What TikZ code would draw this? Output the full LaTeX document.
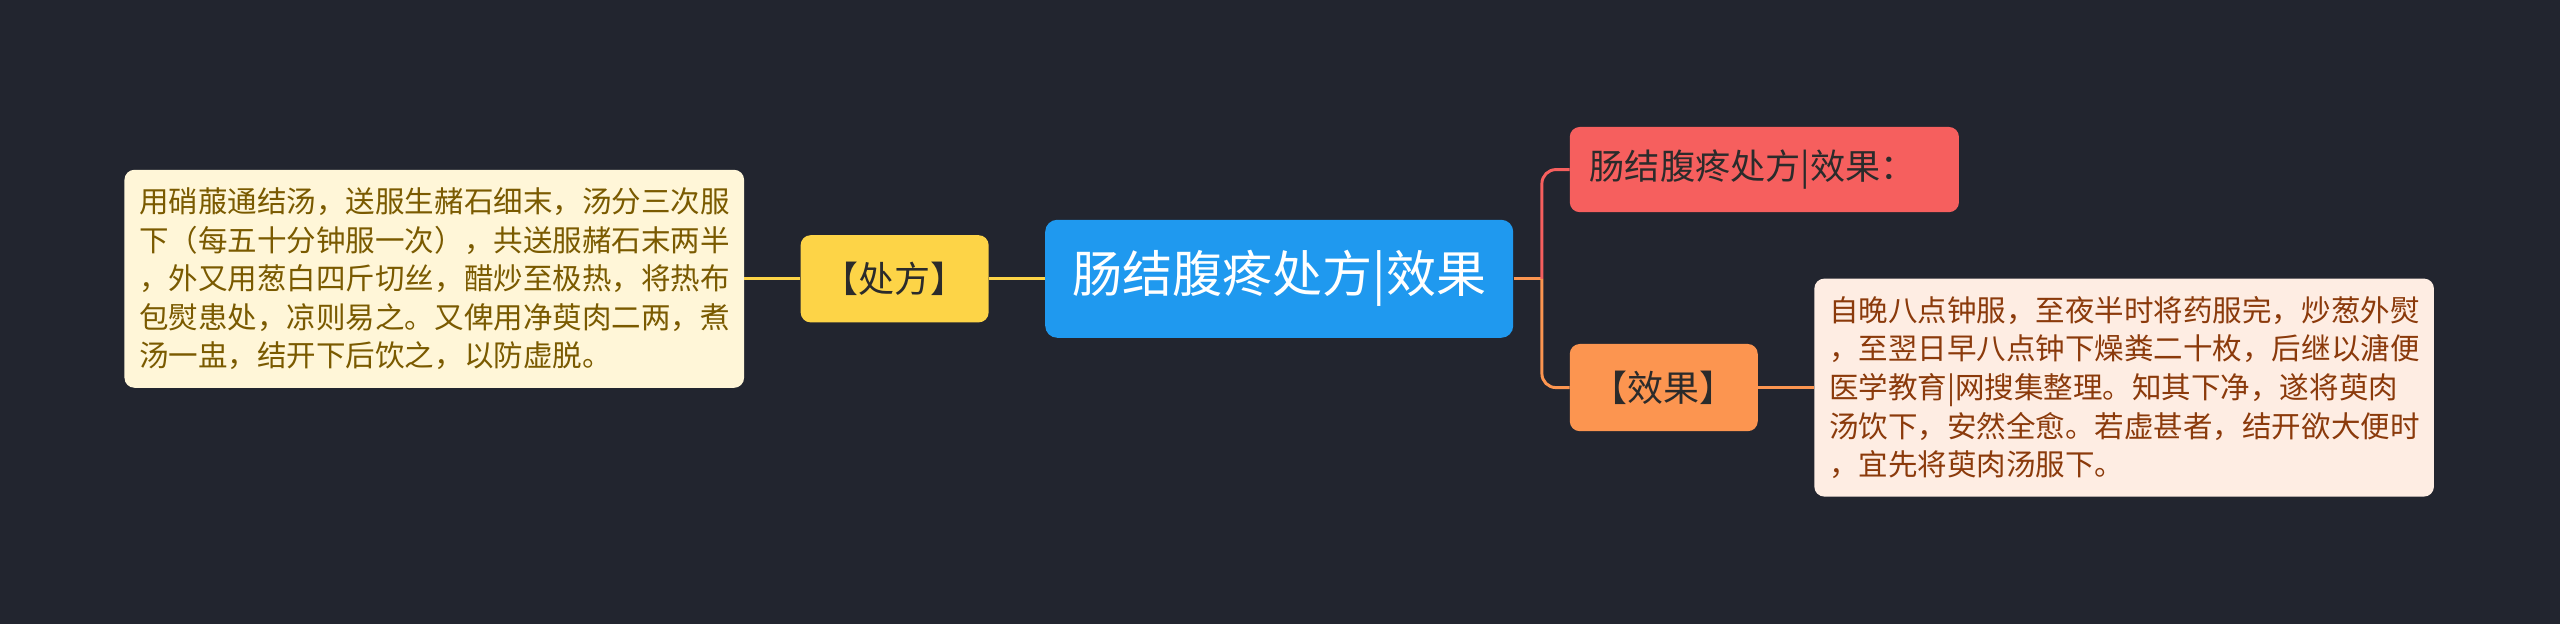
\documentclass[tikz,border=0pt]{standalone}
\usepackage{fontspec}
\usepackage{tikz}
\usetikzlibrary{positioning}
\newfontfamily\cjk{Noto Sans CJK SC}
\definecolor{bgdark}{HTML}{22252F}
\definecolor{rootblue}{HTML}{1F99EF}
\definecolor{gold}{HTML}{FDD447}
\definecolor{cream}{HTML}{FFF6D8}
\definecolor{olive}{HTML}{7A5A00}
\definecolor{coral}{HTML}{F65F5E}
\definecolor{tangerine}{HTML}{FC9550}
\definecolor{peach}{HTML}{FEEDE3}
\definecolor{rust}{HTML}{8B3A0B}
\definecolor{ink}{HTML}{2B2B2B}

\begin{document}
\begin{tikzpicture}[
node distance=1.4cm,
every node/.style={font=\cjk,align=center},
root/.style={fill=rootblue,rounded corners=0.3cm,minimum width=11.7cm,minimum height=2.95cm,text=white,font=\cjk\fontsize{35.6}{40}\selectfont},
tag/.style={rounded corners=0.25cm,minimum width=4.7cm,minimum height=2.18cm,text=ink,font=\cjk\fontsize{25.6}{30}\selectfont},
note/.style={rounded corners=0.25cm,text width=14.75cm,minimum height=5.45cm,inner xsep=0.37cm,align=left,font=\cjk\fontsize{21}{27.5}\selectfont},
link/.style={line width=2.1pt,rounded corners=0.35cm}
]
\fill[bgdark] (0,0) rectangle (64,15.6);
\node[root] (c) at (31.98,8.63) {肠结腹疼处方|效果};
% left side
\node[tag,fill=gold,left=of c] (p) {【处方】};
\node[note,fill=cream,text=olive,left=of p] (l) {用硝菔通结汤，送服生赭石细末，汤分三次服\\下（每五十分钟服一次），共送服赭石末两半\\，外又用葱白四斤切丝，醋炒至极热，将热布\\包熨患处，凉则易之。又俾用净萸肉二两，煮\\汤一盅，结开下后饮之，以防虚脱。};
% right side
\node[tag,fill=coral,right=of c,yshift=2.73cm,minimum width=0cm,text width=8.73cm,inner xsep=0.5cm,align=left,minimum height=2.13cm,font=\cjk\fontsize{25}{30}\selectfont] (t) {肠结腹疼处方|效果：};
\node[tag,fill=tangerine,right=of c,yshift=-2.72cm] (e) {【效果】};
\node[note,fill=peach,text=rust,right=of e] (r) {自晚八点钟服，至夜半时将药服完，炒葱外熨\\，至翌日早八点钟下燥粪二十枚，后继以溏便\\医学教育|网搜集整理。知其下净，遂将萸肉\\汤饮下，安然全愈。若虚甚者，结开欲大便时\\，宜先将萸肉汤服下。};
% connectors
\draw[link,gold] (l) -- (p);
\draw[link,gold] (p) -- (c);
\draw[link,tangerine] (c.east) -- ++(0.71,0) coordinate (j);
\draw[link,coral] (j) |- (t.west);
\draw[link,tangerine] (j) |- (e.west);
\draw[link,tangerine] (e) -- (r);
\end{tikzpicture}
\end{document}
